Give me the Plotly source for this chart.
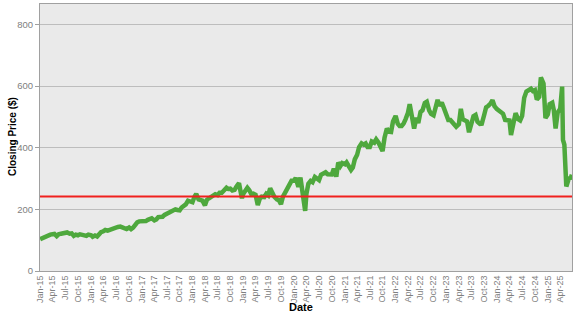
import plotly.graph_objects as go
import pandas as pd

# ---- data ----
d2015 = ["2015-01-02","2015-01-15","2015-02-02","2015-02-16","2015-03-02","2015-03-16","2015-04-01","2015-04-15",
         "2015-05-01","2015-05-15","2015-06-01","2015-06-15","2015-07-01","2015-07-15","2015-08-03","2015-08-17",
         "2015-09-01","2015-09-15","2015-10-01","2015-10-15","2015-11-02","2015-11-16","2015-12-01","2015-12-15"]
c2015 = [103,106,108,113,115,118,119,120,113,119,121,122,123,125,121,122,114,118,116,119,117,114,114,118]

d2016 = ["2016-01-04","2016-01-15","2016-02-01","2016-02-16","2016-03-01","2016-03-15","2016-04-01","2016-04-15",
         "2016-05-02","2016-05-16","2016-06-01","2016-06-15","2016-07-01","2016-07-15","2016-08-01","2016-08-15",
         "2016-09-01","2016-09-15","2016-10-03","2016-10-17","2016-11-01","2016-11-15","2016-12-01","2016-12-15"]
c2016 = [116,111,115,112,119,126,129,133,131,134,134,139,141,143,144,141,137,136,141,136,141,151,158,161]

d2017 = ["2017-01-03","2017-01-17","2017-02-01","2017-02-15","2017-03-01","2017-03-15","2017-04-03","2017-04-17",
         "2017-05-01","2017-05-15","2017-06-01","2017-06-15","2017-07-03","2017-07-17","2017-08-01","2017-08-15",
         "2017-09-01","2017-09-15","2017-10-02","2017-10-16","2017-11-01","2017-11-15","2017-12-01","2017-12-15"]
c2017 = [161,162,162,166,168,171,164,167,175,174,176,182,186,189,193,198,200,198,197,206,211,216,228,225]

d2018 = ["2018-01-02","2018-01-16","2018-01-29","2018-02-15","2018-03-01","2018-03-15","2018-04-02","2018-04-16",
         "2018-05-01","2018-05-15","2018-06-01","2018-06-15","2018-07-02","2018-07-16","2018-08-01","2018-08-15",
         "2018-09-04","2018-09-17","2018-10-01","2018-10-16","2018-11-01","2018-11-15","2018-12-03","2018-12-14","2018-12-24"]
c2018 = [223,240,250,232,228,228,213,231,236,241,243,249,246,254,254,263,270,266,267,261,263,274,285,258,236]

d2019 = ["2019-01-02","2019-01-15","2019-02-01","2019-02-15","2019-03-01","2019-03-15","2019-04-01","2019-04-17",
         "2019-05-01","2019-05-15","2019-06-03","2019-06-17","2019-07-01","2019-07-15","2019-08-01","2019-08-15",
         "2019-09-03","2019-09-16","2019-10-01","2019-10-15","2019-11-01","2019-11-15","2019-12-02","2019-12-16"]
c2019 = [250,261,270,262,250,251,247,214,234,241,240,250,245,268,250,240,232,230,217,241,255,271,281,293]

d2020 = ["2020-01-02","2020-01-15","2020-02-03","2020-02-18","2020-03-02","2020-03-16","2020-03-23","2020-04-01",
         "2020-04-15","2020-05-01","2020-05-15","2020-06-01","2020-06-15","2020-07-01","2020-07-15","2020-08-03",
         "2020-08-17","2020-09-01","2020-09-15","2020-10-01","2020-10-15","2020-11-02","2020-11-16","2020-12-01","2020-12-15"]
c2020 = [293,302,273,303,262,238,195,250,283,292,288,305,298,295,312,316,320,314,312,313,332,306,352,340,350]

d2021 = ["2021-01-04","2021-01-15","2021-02-01","2021-02-16","2021-03-01","2021-03-15","2021-04-01","2021-04-15",
         "2021-05-03","2021-05-17","2021-06-01","2021-06-15","2021-07-01","2021-07-15","2021-08-02","2021-08-16",
         "2021-09-01","2021-09-15","2021-10-01","2021-10-15","2021-11-01","2021-11-15","2021-12-01","2021-12-15"]
c2021 = [346,352,336,328,336,362,377,402,414,410,414,402,402,420,416,427,417,401,389,432,462,452,451,485]

d2022 = ["2022-01-03","2022-01-18","2022-02-01","2022-02-15","2022-03-01","2022-03-15","2022-04-01","2022-04-14",
         "2022-05-02","2022-05-16","2022-06-01","2022-06-15","2022-07-01","2022-07-15","2022-08-01","2022-08-15",
         "2022-09-01","2022-09-15","2022-10-03","2022-10-17","2022-11-01","2022-11-15","2022-12-01","2022-12-15"]
c2022 = [503,478,470,470,478,492,512,541,505,462,497,480,516,521,545,549,521,510,505,526,555,536,546,530]

d2023 = ["2023-01-03","2023-01-17","2023-02-01","2023-02-15","2023-03-01","2023-03-15","2023-04-03","2023-04-17",
         "2023-05-01","2023-05-15","2023-06-01","2023-06-15","2023-07-03","2023-07-17","2023-08-01","2023-08-15",
         "2023-09-01","2023-09-15","2023-10-02","2023-10-16","2023-11-01","2023-11-15","2023-12-01","2023-12-15"]
c2023 = [500,490,490,484,475,468,476,526,492,488,485,450,482,502,506,484,477,478,506,531,536,542,554,535]

d2024 = ["2024-01-02","2024-01-16","2024-02-01","2024-02-15","2024-03-01","2024-03-15","2024-04-01","2024-04-12",
         "2024-05-01","2024-05-15","2024-06-03","2024-06-17","2024-07-01","2024-07-16","2024-08-01","2024-08-15",
         "2024-09-03","2024-09-16","2024-10-01","2024-10-15","2024-11-01","2024-11-13","2024-12-02","2024-12-16"]
c2024 = [525,520,512,510,490,490,488,441,484,512,492,488,503,562,582,587,591,584,587,556,565,628,608,496]

d2025 = ["2025-01-02","2025-01-15","2025-02-03","2025-02-14","2025-02-27","2025-03-14","2025-04-01","2025-04-15",
         "2025-04-21","2025-05-01","2025-05-13","2025-05-15","2025-06-02","2025-06-16","2025-06-24"]
c2025 = [508,541,546,522,462,514,526,598,425,410,308,274,300,302,312]

reference_level = 242
y_ticks = [0, 200, 400, 600, 800]
tick_dates = pd.date_range("2015-01-01", "2025-04-01", freq="QS")
tick_text = [d.strftime("%b-%y") for d in tick_dates]

dates = d2015 + d2016 + d2017 + d2018 + d2019 + d2020 + d2021 + d2022 + d2023 + d2024 + d2025
closes = c2015 + c2016 + c2017 + c2018 + c2019 + c2020 + c2021 + c2022 + c2023 + c2024 + c2025

fig = go.Figure()
fig.add_trace(go.Scatter(
    x=dates, y=closes, mode="lines",
    line=dict(color="#4EA83D", width=4.5),
    hoverinfo="skip", showlegend=False,
))
fig.add_trace(go.Scatter(
    x=["2015-01-01", "2025-06-25"], y=[reference_level, reference_level], mode="lines",
    line=dict(color="#F0201E", width=2),
    hoverinfo="skip", showlegend=False,
))

font_family = "Liberation Sans, Arial, sans-serif"
ML, MR, MT, MB = 40, 5, 4, 44
plot_w = 577 - ML - MR
plot_h = 315 - MT - MB

fig.update_layout(
    width=577, height=315,
    margin=dict(l=ML, r=MR, t=MT, b=MB),
    paper_bgcolor="white",
    plot_bgcolor="#EAEAEA",
    font=dict(family=font_family),
    showlegend=False,
    xaxis=dict(
        type="date",
        range=["2015-01-01", "2025-06-25"],
        tickvals=list(tick_dates),
        ticktext=tick_text,
        tickangle=-90,
        tickfont=dict(size=9, color="#808080", family=font_family),
        showgrid=False,
        showline=True, linecolor="#A0A0A0", linewidth=1, mirror=True,
        ticks="", zeroline=False,
        automargin=False,
    ),
    yaxis=dict(
        range=[0, 866],
        tickvals=y_ticks,
        tickfont=dict(size=9.5, color="#808080", family=font_family),
        showgrid=True, gridcolor="#BDBDBD", gridwidth=1,
        showline=True, linecolor="#A0A0A0", linewidth=1, mirror=True,
        ticks="outside", ticklen=4, tickcolor="#A0A0A0",
        zeroline=False,
        automargin=False,
    ),
    annotations=[
        dict(text="<b>Closing Price ($)</b>", x=(12 - ML) / plot_w, y=(271 - 137) / plot_h,
             xref="paper", yref="paper",
             showarrow=False, textangle=-90, font=dict(size=10, color="black", family=font_family),
             xanchor="center", yanchor="middle"),
        dict(text="<b>Date</b>", x=(301 - ML) / plot_w, y=-(299 - 271) / plot_h,
             xref="paper", yref="paper",
             showarrow=False, font=dict(size=11, color="black", family=font_family),
             xanchor="center", yanchor="top"),
    ],
)

fig.write_html("out.html")
